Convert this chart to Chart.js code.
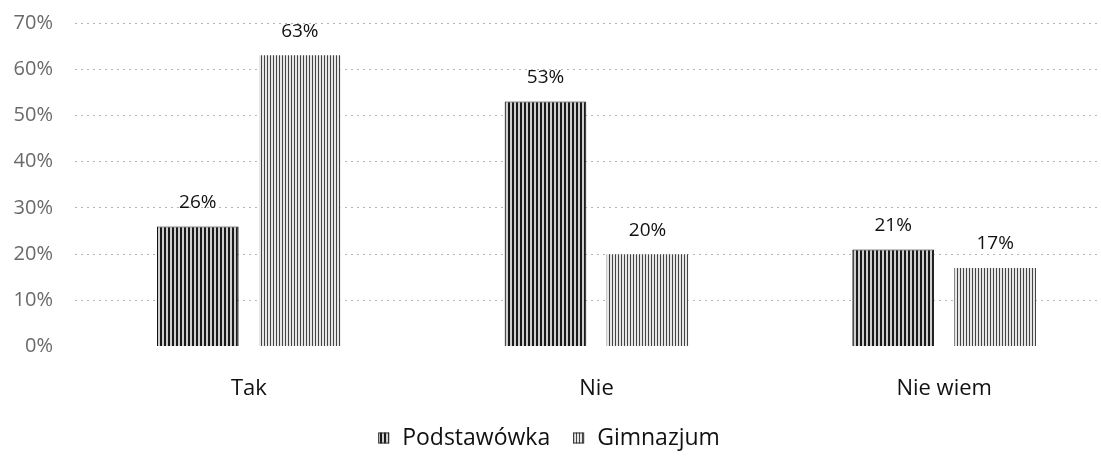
<!DOCTYPE html>
<html>
<head>
<meta charset="utf-8">
<script src="https://cdn.jsdelivr.net/npm/chart.js@4.4.1/dist/chart.umd.min.js"></script>
<style>
  html, body { margin: 0; padding: 0; background: #fff; overflow: hidden; }
  #wrap { width: 1118px; height: 456px; }
</style>
</head>
<body>
<div id="wrap"><canvas id="chart"></canvas></div>
<script>
// data
const categories = ['Tak', 'Nie', 'Nie wiem'];
const podstawowka = [26, 53, 21];
const gimnazjum = [63, 20, 17];
const yTicks = [0, 10, 20, 30, 40, 50, 60, 70];

// vertical hatch fill like the scanned bars
function stripes(dark, light, darkW, lightW) {
    const c = document.createElement('canvas');
    c.width = darkW + lightW;
    c.height = 4;
    const g = c.getContext('2d');
    g.fillStyle = light;
    g.fillRect(0, 0, c.width, c.height);
    g.fillStyle = dark;
    g.fillRect(0, 0, darkW, c.height);
    return g.createPattern(c, 'repeat');
}
const fillP = stripes('#1a1a1a', '#cfcfcf', 2, 2);
const fillG = stripes('#444444', '#e6e6e6', 1, 2);

// value labels above the bars
const valueLabels = {
    id: 'valueLabels',
    afterDatasetsDraw(chart) {
        const ctx = chart.ctx;
        ctx.save();
        ctx.font = '19px "Open Sans", sans-serif';
        ctx.fillStyle = '#111';
        ctx.textAlign = 'center';
        ctx.textBaseline = 'middle';
        chart.data.datasets.forEach((ds, i) => {
            chart.getDatasetMeta(i).data.forEach((bar, j) => {
                ctx.fillText(ds.data[j] + '%', bar.x, bar.y - 24);
            });
        });
        ctx.restore();
    }
};

// legend drawn by hand so it sits close under the category labels
const bottomLegend = {
    id: 'bottomLegend',
    afterDraw(chart) {
        const ctx = chart.ctx;
        ctx.save();
        ctx.font = '23px "Open Sans", sans-serif';
        ctx.textBaseline = 'middle';
        ctx.textAlign = 'left';
        const items = chart.data.datasets.map(ds => ({
            text: ds.label,
            fill: ds.backgroundColor,
            w: ctx.measureText(ds.label).width,
        }));
        const box = 11, gap = 13, between = 23;
        let total = -between;
        items.forEach(it => { total += box + gap + it.w + between; });
        let x = 549 - total / 2;
        const y = 438;
        items.forEach(it => {
            ctx.fillStyle = it.fill;
            ctx.fillRect(x, y - box / 2, box, box);
            ctx.strokeStyle = '#333';
            ctx.lineWidth = 1;
            ctx.strokeRect(x + 0.5, y - box / 2 + 0.5, box - 1, box - 1);
            ctx.fillStyle = '#111';
            ctx.fillText(it.text, x + box + gap, y);
            x += box + gap + it.w + between;
        });
        ctx.restore();
    }
};

new Chart(document.getElementById('chart').getContext('2d'), {
    type: 'bar',
    data: {
        labels: categories,
        datasets: [{
            label: 'Podstawówka',
            data: podstawowka,
            backgroundColor: fillP,
            borderColor: '#111',
            borderWidth: 1,
            barPercentage: 0.8,
            categoryPercentage: 0.587,
        }, {
            label: 'Gimnazjum',
            data: gimnazjum,
            backgroundColor: fillG,
            borderWidth: 0,
            barPercentage: 0.8,
            categoryPercentage: 0.587,
        }],
    },
    options: {
        responsive: true,
        maintainAspectRatio: false,
        animation: false,
        layout: { padding: { top: 23, right: 0, left: 0, bottom: 33 } },
        scales: {
            x: {
                grid: { display: false },
                border: { display: false },
                ticks: {
                    color: '#111',
                    padding: 21,
                    font: { family: '"Open Sans", sans-serif', size: 22 },
                },
            },
            y: {
                min: 0,
                max: 70,
                afterFit(scale) { scale.width = 75; },
                afterBuildTicks(scale) { scale.ticks = yTicks.map(v => ({ value: v })); },
                grid: {
                    color: ctx => ctx.tick && ctx.tick.value === 0 ? 'rgba(0,0,0,0)' : '#b5b5b5',
                    lineWidth: 1,
                    tickLength: 20,
                    tickColor: 'rgba(0,0,0,0)',
                },
                border: { display: false, dash: [2, 4] },
                ticks: {
                    color: '#6a6a6a',
                    padding: 2,
                    font: { family: '"Open Sans", sans-serif', size: 20 },
                    callback: v => v + '%',
                },
            },
        },
        plugins: {
            legend: { display: false },
            tooltip: { enabled: false },
        },
    },
    plugins: [valueLabels, bottomLegend],
});
</script>
</body>
</html>
